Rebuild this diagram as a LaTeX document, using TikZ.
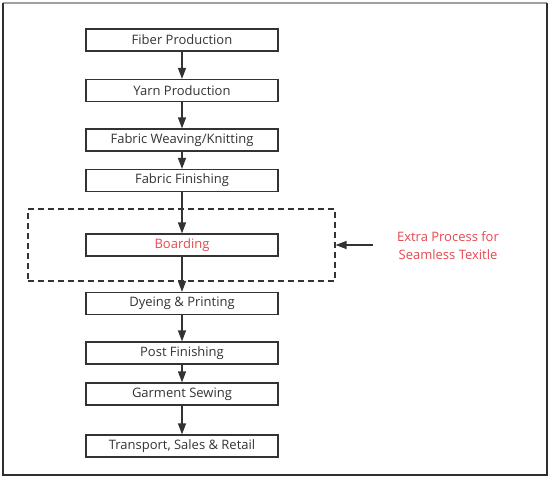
\documentclass[tikz,border=0pt]{standalone}
\usepackage{fontspec}
\setmainfont{Open Sans}
\usepackage{xcolor}
\usetikzlibrary{arrows.meta,positioning}
\definecolor{linec}{HTML}{333333}
\definecolor{framec}{HTML}{2E2E2E}
\definecolor{topc}{HTML}{A0A0A0}
\definecolor{redc}{HTML}{E5484F}
\tikzset{
  ar/.style={-{Triangle[length=11pt,width=8pt]},line width=1.3pt,linec},
  box/.style={draw=linec,line width=1.2pt,minimum width=192pt,minimum height=22pt,inner sep=0pt,font=\fontsize{13}{15}\selectfont,text=linec},
  extra/.style={draw=linec,line width=1.2pt,dash pattern=on 6pt off 4pt,minimum width=307pt,minimum height=72pt,inner sep=0pt}
}

\begin{document}
\begin{tikzpicture}[x=1pt,y=-1pt]
\useasboundingbox (0,0) rectangle (550,479);
% frame
\draw[topc,line width=1.2pt] (3,3)--(547,3);
\draw[framec,line width=2pt] (3,3)--(3,475)--(547,475)--(547,3);
% process chain
\node[box] (fiber) at (182,40) {Fiber Production};
\node[box] (yarn) at (182,90.5) {Yarn Production};
\node[box] (weave) at (182,140) {Fabric Weaving/Knitting};
\node[box] (finish) at (182,180.5) {Fabric Finishing};
\node[box,text=redc] (board) at (182,245) {Boarding};
\node[box] (dye) at (182,303.5) {Dyeing \& Printing};
\node[box] (post) at (182,353) {Post Finishing};
\node[box] (sew) at (182,394) {Garment Sewing};
\node[box] (retail) at (182,446) {Transport, Sales \& Retail};
\draw[ar] (fiber)--(yarn);
\draw[ar] (yarn)--(weave);
\draw[ar] (weave)--(finish);
\draw[ar] (finish)--(board);
\draw[ar] (board)--(dye);
\draw[ar] (dye)--(post);
\draw[ar] (post)--(sew);
\draw[ar] (sew)--(retail);
% seamless extra step
\node[extra] (xbox) at (181.5,245) {};
\node[align=center,text=redc,font=\fontsize{13}{18}\selectfont] (note) at (448,246) {Extra Process for\\Seamless Texitle};
\coordinate (src) at (373,245);
\draw[ar] (src)--(xbox.east);
\end{tikzpicture}
\end{document}
